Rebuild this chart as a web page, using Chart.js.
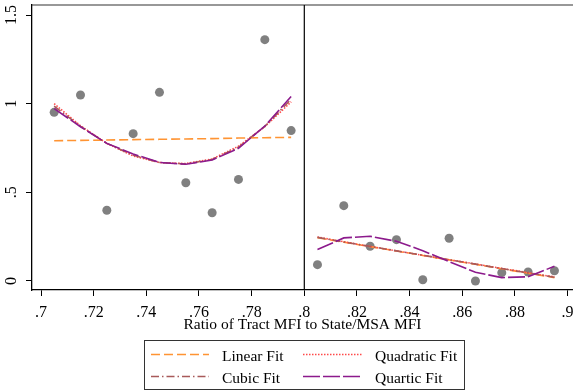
<!DOCTYPE html>
<html>
<head>
<meta charset="utf-8">
<script src="https://cdn.jsdelivr.net/npm/chart.js@4/dist/chart.umd.min.js"></script>
<style>
    body { margin: 0; background: #fff; }
    canvas { display: block; }
</style>
</head>
<body>
<canvas id="rdChart" width="573" height="391"></canvas>
<script>
// Bin midpoints on each side of the .8 cutoff
const binsLeft = [0.705, 0.715, 0.725, 0.735, 0.745, 0.755, 0.765, 0.775, 0.785, 0.795];
const binsRight = [0.805, 0.815, 0.825, 0.835, 0.845, 0.855, 0.865, 0.875, 0.885, 0.895];
const cutoff = 0.8;

// Binned means (grey dots)
const meansLeft = [0.951, 1.049, 0.399, 0.831, 1.064, 0.554, 0.385, 0.573, 1.361, 0.848];
const meansRight = [0.092, 0.425, 0.196, 0.233, 0.007, 0.241, 0.000, 0.047, 0.051, 0.058];

// Fitted values
const linearLeft = [0.791, 0.793, 0.795, 0.797, 0.799, 0.801, 0.803, 0.806, 0.808, 0.810];
const linearRight = [0.244, 0.219, 0.194, 0.169, 0.144, 0.119, 0.094, 0.069, 0.044, 0.019];
const quadLeft = [1.000, 0.875, 0.776, 0.705, 0.668, 0.662, 0.688, 0.760, 0.870, 1.010];
const quadRight = [0.248, 0.221, 0.195, 0.170, 0.145, 0.120, 0.096, 0.071, 0.047, 0.023];
const cubicLeft = [0.986, 0.872, 0.776, 0.710, 0.668, 0.660, 0.685, 0.754, 0.872, 1.025];
const cubicRight = [0.246, 0.220, 0.195, 0.170, 0.145, 0.120, 0.095, 0.070, 0.045, 0.021];
const quarticLeft = [0.972, 0.870, 0.776, 0.716, 0.669, 0.658, 0.682, 0.748, 0.874, 1.040];
const quarticRight = [0.177, 0.243, 0.252, 0.224, 0.171, 0.109, 0.049, 0.019, 0.024, 0.083];

// Axis ticks
const xTicks = [0.7, 0.72, 0.74, 0.76, 0.78, 0.8, 0.82, 0.84, 0.86, 0.88, 0.9];
const xLabels = ['.7', '.72', '.74', '.76', '.78', '.8', '.82', '.84', '.86', '.88', '.9'];
const yTicks = [0, 0.5, 1, 1.5];
const yLabels = ['0', '.5', '1', '1.5'];

const legendNames = ['Linear Fit', 'Quadratic Fit', 'Cubic Fit', 'Quartic Fit'];

const serif = '"Liberation Serif", "Times New Roman", serif';

// Join left and right pieces with a gap at the cutoff
function fitSeries(left, right) {
    const pts = binsLeft.map((x, i) => ({ x: x, y: left[i] }));
    pts.push({ x: cutoff, y: null });
    return pts.concat(binsRight.map((x, i) => ({ x: x, y: right[i] })));
}

const fits = [
    { name: legendNames[0], data: fitSeries(linearLeft, linearRight), color: '#ff9433', dash: [9, 4], order: 3 },
    { name: legendNames[1], data: fitSeries(quadLeft, quadRight), color: '#ff4a4a', dash: [1.5, 1.5], order: 2 },
    { name: legendNames[2], data: fitSeries(cubicLeft, cubicRight), color: '#a85a5a', dash: [8, 3, 1.5, 3], order: 1 },
    { name: legendNames[3], data: fitSeries(quarticLeft, quarticRight), color: '#8c1a8c', dash: [17, 3], order: 0 }
];

// Frame line on top and the cutoff line, plus the boxed legend underneath
const framePlugin = {
    id: 'frame',
    afterDatasetsDraw(chart) {
        const { ctx, chartArea, scales } = chart;
        ctx.save();
        ctx.strokeStyle = '#333';
        ctx.lineWidth = 1.2;
        ctx.beginPath();
        ctx.moveTo(chartArea.left, chartArea.top);
        ctx.lineTo(chartArea.right, chartArea.top);
        ctx.stroke();
        const cx = scales.x.getPixelForValue(cutoff);
        ctx.strokeStyle = '#000';
        ctx.beginPath();
        ctx.moveTo(cx, chartArea.top);
        ctx.lineTo(cx, chartArea.bottom);
        ctx.stroke();
        ctx.restore();
    },
    afterDraw(chart) {
        const ctx = chart.ctx;
        ctx.save();
        ctx.strokeStyle = '#333';
        ctx.lineWidth = 1;
        ctx.strokeRect(144.5, 340.5, 320, 49);
        ctx.font = '15.5px ' + serif;
        ctx.fillStyle = '#000';
        ctx.textBaseline = 'alphabetic';
        const cols = [[151, 209, 222], [303, 362, 375]];
        const rows = [354.5, 376.5];
        // Stata legend order: row by row
        const slots = [[0, 0], [1, 0], [0, 1], [1, 1]];
        fits.forEach((f, i) => {
            const [c, r] = slots[i];
            const [x0, x1, tx] = cols[c];
            const y = rows[r];
            ctx.strokeStyle = f.color;
            ctx.lineWidth = 1.6;
            ctx.setLineDash(f.dash);
            ctx.beginPath();
            ctx.moveTo(x0, y);
            ctx.lineTo(x1, y);
            ctx.stroke();
            ctx.setLineDash([]);
            ctx.fillText(f.name, tx, y + 6);
        });
        ctx.restore();
    }
};

const datasets = fits.map(f => ({
    label: f.name,
    data: f.data,
    showLine: true,
    spanGaps: false,
    borderColor: f.color,
    borderWidth: 1.6,
    borderDash: f.dash,
    pointRadius: 0,
    fill: false,
    tension: 0,
    order: f.order
}));

datasets.push({
    label: 'Bin means',
    data: binsLeft.map((x, i) => ({ x: x, y: meansLeft[i] }))
        .concat(binsRight.map((x, i) => ({ x: x, y: meansRight[i] }))),
    pointRadius: 4.5,
    pointBackgroundColor: '#808080',
    pointBorderWidth: 0,
    showLine: false,
    order: 5
});

new Chart(document.getElementById('rdChart'), {
    type: 'scatter',
    data: { datasets: datasets },
    options: {
        responsive: false,
        animation: false,
        devicePixelRatio: 1,
        layout: { autoPadding: false, padding: { left: 0, right: 0, top: 5, bottom: 56 } },
        plugins: {
            legend: { display: false },
            tooltip: { enabled: false }
        },
        scales: {
            x: {
                type: 'linear',
                min: 0.69658,
                max: 0.90205,
                afterBuildTicks: s => { s.ticks = xTicks.map(v => ({ value: v })); },
                afterFit: s => { s.height = 45; s.paddingLeft = 0; s.paddingRight = 0; },
                ticks: {
                    autoSkip: false,
                    maxRotation: 0,
                    padding: 7,
                    color: '#000',
                    font: { family: serif, size: 16 },
                    callback: (v, i) => xLabels[i]
                },
                grid: { drawOnChartArea: false, tickLength: 6, tickColor: '#000', tickWidth: 1 },
                border: { color: '#000', width: 1.3 },
                title: {
                    display: true,
                    text: 'Ratio of Tract MFI to State/MSA MFI',
                    color: '#000',
                    font: { family: serif, size: 15.5 },
                    padding: { top: 0, bottom: 1 }
                }
            },
            y: {
                min: -0.0508,
                max: 1.5564,
                afterBuildTicks: s => { s.ticks = yTicks.map(v => ({ value: v })); },
                afterFit: s => { s.width = 32; s.paddingTop = 0; s.paddingBottom = 0; },
                ticks: {
                    autoSkip: false,
                    minRotation: 90,
                    maxRotation: 90,
                    crossAlign: 'center',
                    padding: 4,
                    color: '#000',
                    font: { family: serif, size: 16 },
                    callback: (v, i) => yLabels[i]
                },
                grid: { drawOnChartArea: false, tickLength: 6, tickColor: '#000', tickWidth: 1 },
                border: { color: '#000', width: 1.3 }
            }
        }
    },
    plugins: [framePlugin]
});
</script>
</body>
</html>
